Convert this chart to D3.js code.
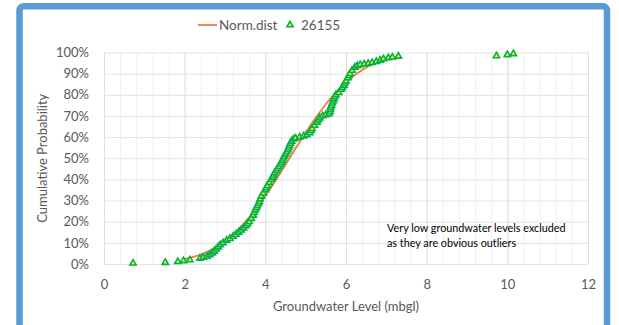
<!DOCTYPE html>
<html>
<head>
<meta charset="utf-8">
<script src="https://cdn.jsdelivr.net/npm/d3@7"></script>
<style>
  body { margin: 0; background: #fff; }
  svg { display: block; font-family: Lato, "Noto Sans", sans-serif; }
</style>
</head>
<body>
<svg></svg>
<script>
// Norm.dist curve (x = groundwater level, p = cumulative probability)
const normX = [2.0, 2.4, 2.8, 3.2, 3.6, 4.0, 4.4, 4.8, 5.2, 5.6, 6.0, 6.4, 6.8, 7.1];
const normP = [0.023, 0.045, 0.083, 0.141, 0.221, 0.322, 0.439, 0.561, 0.678, 0.779, 0.859, 0.917, 0.955, 0.973];

// observed levels at 26155 and their cumulative probability
const obsX = [0.72, 1.52, 1.83, 1.97, 2.13, 2.38, 2.46, 2.55, 2.62, 2.68, 2.73, 2.78, 2.83, 2.88, 2.95,
  3.04, 3.12, 3.20, 3.27, 3.34, 3.40, 3.46, 3.52, 3.56, 3.60, 3.65, 3.70, 3.72, 3.75, 3.78,
  3.80, 3.83, 3.85, 3.87, 3.90, 3.95, 4.00, 4.02, 4.05, 4.10, 4.15, 4.18, 4.20, 4.23, 4.27,
  4.30, 4.33, 4.37, 4.40, 4.42, 4.45, 4.47, 4.50, 4.53, 4.56, 4.58, 4.60, 4.62, 4.65, 4.70,
  4.75, 4.85, 4.95, 5.03, 5.10, 5.13, 5.16, 5.22, 5.28, 5.31, 5.35, 5.42, 5.50, 5.58, 5.60,
  5.61, 5.62, 5.64, 5.66, 5.68, 5.70, 5.72, 5.75, 5.82, 5.88, 5.91, 5.95, 5.97, 6.00, 6.05,
  6.07, 6.10, 6.15, 6.22, 6.28, 6.35, 6.45, 6.55, 6.65, 6.75, 6.85, 6.93, 7.05, 7.15, 7.30,
  9.73, 10.0, 10.15];
const obsP = [0.004, 0.007, 0.011, 0.015, 0.019, 0.027, 0.031, 0.036, 0.043, 0.051, 0.06, 0.07, 0.08, 0.09, 0.10,
  0.112, 0.12, 0.13, 0.14, 0.15, 0.16, 0.17, 0.18, 0.19, 0.20, 0.215, 0.23, 0.243, 0.255, 0.265,
  0.275, 0.285, 0.295, 0.307, 0.32, 0.335, 0.35, 0.36, 0.37, 0.385, 0.40, 0.41, 0.42, 0.43, 0.44,
  0.45, 0.46, 0.47, 0.48, 0.49, 0.50, 0.51, 0.52, 0.53, 0.54, 0.55, 0.56, 0.57, 0.58, 0.59,
  0.595, 0.60, 0.605, 0.61, 0.62, 0.63, 0.64, 0.655, 0.67, 0.68, 0.69, 0.70, 0.705, 0.71, 0.72,
  0.73, 0.74, 0.75, 0.76, 0.77, 0.78, 0.79, 0.80, 0.81, 0.825, 0.835, 0.845, 0.855, 0.865, 0.88,
  0.89, 0.90, 0.915, 0.93, 0.937, 0.942, 0.945, 0.948, 0.952, 0.957, 0.963, 0.97, 0.975, 0.978, 0.982,
  0.984, 0.989, 0.994];

const xTicks = [0, 2, 4, 6, 8, 10, 12];
const yTicks = [0, 0.1, 0.2, 0.3, 0.4, 0.5, 0.6, 0.7, 0.8, 0.9, 1.0];
const note = ["Very low groundwater levels excluded", "as they are obvious outliers"];

const width = 619, height = 325;
const plotL = 104, plotR = 588, plotT = 52.5, plotB = 264;

const svg = d3.select('svg').attr('width', width).attr('height', height);

// chart frame
svg.append('rect')
  .attr('x', 19.5).attr('y', 6.3)
  .attr('width', 587.5).attr('height', 340)
  .attr('rx', 4)
  .attr('fill', '#fff')
  .attr('stroke', '#5b9bd5')
  .attr('stroke-width', 6.5);

const x = d3.scaleLinear().domain([0, 12]).range([plotL, plotR]);
const y = d3.scaleLinear().domain([0, 1]).range([plotB, plotT]);

// minor vertical gridlines every 0.4
svg.append('g')
  .attr('transform', `translate(0,${plotB})`)
  .call(d3.axisBottom(x).tickValues(d3.range(0, 12.01, 0.4)).tickSize(-(plotB - plotT)).tickFormat(''))
  .call(g => g.select('.domain').remove())
  .call(g => g.selectAll('line').attr('stroke', '#f0f0f0'));

// major vertical gridlines
svg.append('g')
  .attr('transform', `translate(0,${plotB})`)
  .call(d3.axisBottom(x).tickValues(xTicks).tickSize(-(plotB - plotT)).tickFormat(''))
  .call(g => g.select('.domain').remove())
  .call(g => g.selectAll('line').attr('stroke', '#dedede'));

// horizontal gridlines
svg.append('g')
  .attr('transform', `translate(${plotL},0)`)
  .call(d3.axisLeft(y).tickValues(yTicks).tickSize(-(plotR - plotL)).tickFormat(''))
  .call(g => g.select('.domain').remove())
  .call(g => g.selectAll('line').attr('stroke', '#e3e3e3'));

// tick labels
svg.append('g')
  .attr('transform', `translate(0,${plotB + 5})`)
  .call(d3.axisBottom(x).tickValues(xTicks).tickSize(0).tickPadding(11))
  .call(g => g.select('.domain').remove())
  .call(g => g.selectAll('text').attr('fill', '#595959').style('font-size', '13px').style('font-family', 'Lato'));

svg.append('g')
  .attr('transform', `translate(${plotL - 15},0)`)
  .call(d3.axisLeft(y).tickValues(yTicks).tickSize(0).tickPadding(0).tickFormat(d3.format('.0%')))
  .call(g => g.select('.domain').remove())
  .call(g => g.selectAll('text').attr('fill', '#595959').style('font-size', '13px').style('font-family', 'Lato'));

// axis titles
svg.append('text')
  .attr('x', (plotL + plotR) / 2).attr('y', 311)
  .attr('text-anchor', 'middle')
  .attr('fill', '#595959').style('font-size', '13px')
  .text('Groundwater Level (mbgl)');

svg.append('text')
  .attr('transform', `translate(47,${(plotT + plotB) / 2}) rotate(-90)`)
  .attr('text-anchor', 'middle')
  .attr('fill', '#595959').style('font-size', '13px')
  .text('Cumulative Probability');

// Norm.dist line
const line = d3.line()
  .x((d, i) => x(normX[i]))
  .y((d, i) => y(normP[i]))
  .curve(d3.curveCatmullRom);

svg.append('path')
  .datum(normX)
  .attr('d', line)
  .attr('fill', 'none')
  .attr('stroke', '#ed7d31')
  .attr('stroke-width', 1.8);

// observed points
const tri = d3.symbol().type(d3.symbolTriangle).size(17);
svg.append('g')
  .selectAll('path')
  .data(obsX)
  .enter()
  .append('path')
  .attr('d', tri)
  .attr('transform', (d, i) => `translate(${x(d)},${y(obsP[i])})`)
  .attr('fill', '#ffff00')
  .attr('stroke', '#00b050')
  .attr('stroke-width', 1.6);

// note
svg.append('g')
  .selectAll('text')
  .data(note)
  .enter()
  .append('text')
  .attr('x', 387)
  .attr('y', (d, i) => 232 + i * 15)
  .attr('fill', '#000')
  .style('font-size', '10.8px')
  .text(d => d);

// legend
const legend = svg.append('g').attr('transform', 'translate(0,25)');
legend.append('line')
  .attr('x1', 198).attr('x2', 217)
  .attr('stroke', '#ed7d31').attr('stroke-width', 1.8);
legend.append('text')
  .attr('x', 219).attr('y', 4.5)
  .attr('fill', '#595959').style('font-size', '13.5px')
  .text('Norm.dist');
legend.append('path')
  .attr('d', tri)
  .attr('transform', 'translate(290,0)')
  .attr('fill', '#ffff00')
  .attr('stroke', '#00b050')
  .attr('stroke-width', 1.6);
legend.append('text')
  .attr('x', 301).attr('y', 4.5)
  .attr('fill', '#595959').style('font-size', '13.5px')
  .text('26155');
</script>
</body>
</html>
